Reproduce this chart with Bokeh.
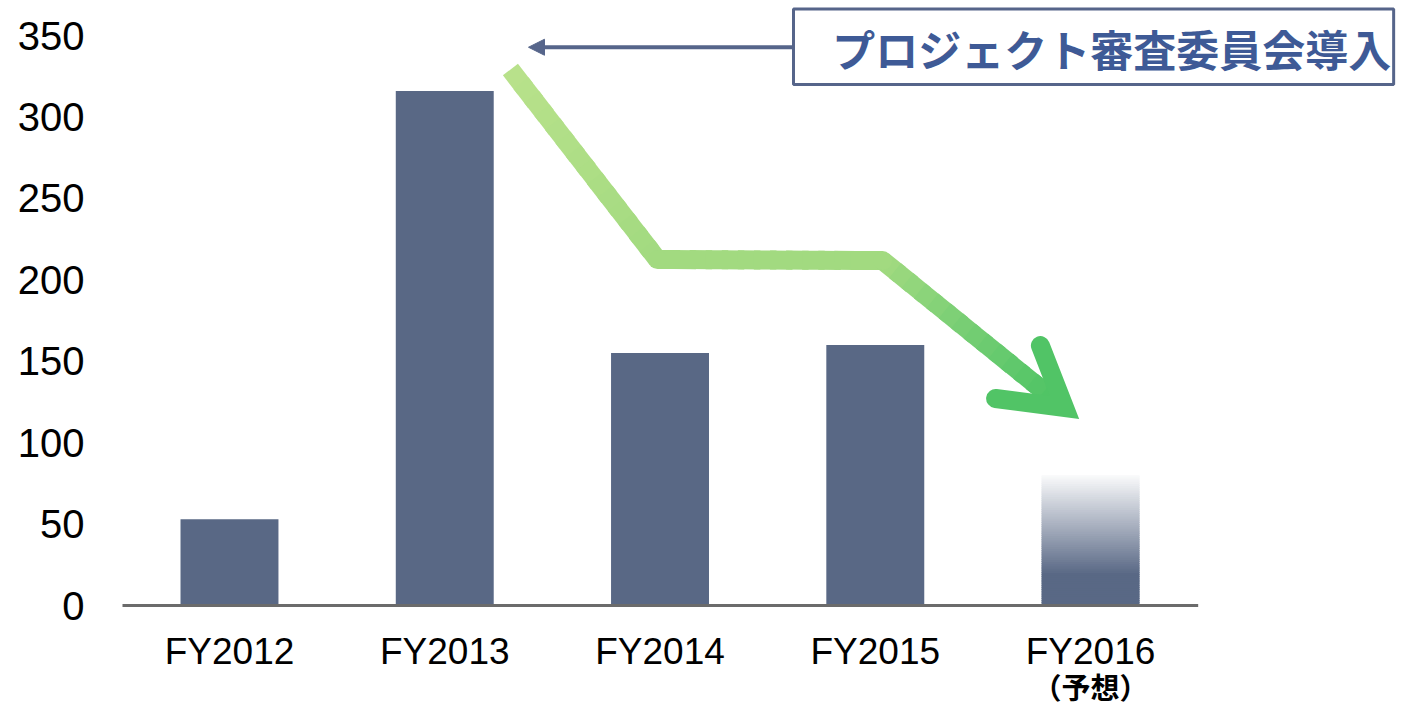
import numpy as np
from bokeh.plotting import figure
from bokeh.models import Range1d, FixedTicker, Arrow, NormalHead
from bokeh.core.properties import value
from bokeh.embed import file_html
from bokeh.resources import INLINE

# ---------------- data ----------------
categories = ["FY2012", "FY2013", "FY2014", "FY2015", "FY2016"]
counts = [53, 316, 155, 160, 80]
is_forecast = [False, False, False, False, True]
forecast_note = "（予想）"
y_ticks = [0, 50, 100, 150, 200, 250, 300, 350]
callout_text = "プロジェクト審査委員会導入"

# ---------------- style ----------------
BAR = "#596885"
AXIS = "#6b6b6b"
SLATE = "#56658a"
CALLOUT_TXT = "#3e5a96"
BAR_W = 0.455

p = figure(width=1408, height=707,
           x_range=Range1d(-0.497, 5.477), y_range=Range1d(-62.6, 371.5),
           x_axis_location=None,
           output_backend="svg", toolbar_location=None,
           min_border_left=122, min_border_right=0,
           min_border_top=0, min_border_bottom=0)
p.outline_line_color = None
p.grid.visible = False
p.background_fill_color = "white"

ya = p.yaxis[0]
ya.ticker = FixedTicker(ticks=y_ticks)
ya.axis_line_color = None
ya.major_tick_line_color = None
ya.minor_tick_line_color = None
ya.major_tick_out = 0
ya.major_tick_in = 0
ya.major_label_standoff = 38
ya.major_label_text_font = "Liberation Sans"
ya.major_label_text_font_size = "40px"
ya.major_label_text_color = "black"

idx = list(range(len(categories)))

# solid bars
sx = [i for i in idx if not is_forecast[i]]
sy = [counts[i] for i in idx if not is_forecast[i]]
p.vbar(x=sx, top=sy, bottom=0, width=BAR_W, fill_color=BAR, line_color=None)

# forecast bar with fade to white
base = np.array([0x59, 0x68, 0x85], dtype=float)
white = np.array([255, 255, 255], dtype=float)
for i in idx:
    if not is_forecast[i]:
        continue
    v = counts[i]
    n = 60
    step = v / n
    bots, tops, cols = [], [], []
    for k in range(n):
        b = k * step
        t = min(v, b + step * 1.6)
        frac = (k + 0.5) / n
        f = 0.0 if frac < 0.24 else (frac - 0.24) / 0.76
        f = min(1.0, f) * 0.97
        c = base * (1 - f) + white * f
        bots.append(b)
        tops.append(t)
        cols.append("#%02x%02x%02x" % tuple(int(round(x)) for x in c))
    p.vbar(x=[i] * n, bottom=bots, top=tops, width=BAR_W,
           fill_color=cols, line_color=None)

# baseline
p.segment(x0=[-0.5], y0=[0], x1=[len(categories) - 0.5], y1=[0],
          line_color=AXIS, line_width=3)

# category labels
p.text(x=idx, y=[0] * len(idx), text=categories, y_offset=46,
       text_align="center", text_baseline="middle",
       text_font=value("Liberation Sans"), text_font_size="37px",
       text_color="black")
fx = [i for i in idx if is_forecast[i]]
p.text(x=fx, y=[0] * len(fx), text=[forecast_note] * len(fx), y_offset=80,
       text_align="center", text_baseline="middle",
       text_font=value("Noto Sans CJK JP"), text_font_style="bold",
       text_font_size="29px", text_color="black")

# callout box and arrow
p.quad(left=[2.620], right=[5.408], top=[366.3], bottom=[319.9],
       fill_color="white", line_color=SLATE, line_width=3)
p.text(x=[4.098], y=[342.6], text=[callout_text],
       text_align="center", text_baseline="middle",
       text_font=value("Noto Sans CJK JP"), text_font_style="bold",
       text_font_size="43px", text_color=CALLOUT_TXT)
p.add_layout(Arrow(end=NormalHead(size=16, fill_color=SLATE, line_color=SLATE),
                   x_start=2.62, y_start=342.8, x_end=1.389, y_end=342.8,
                   line_color=SLATE, line_width=4))

# green trend arrow (decoration)
P0 = (1.305, 329.1)
P1 = (1.988, 212.5)
P2 = (3.034, 211.8)
PE = (3.842, 125.3)
TIP = (3.879, 121.6)
ARM_A = (3.559, 127.1)
ARM_B = (3.767, 159.6)

stops_y = [113.6, 168.9, 210.6, 334.6]
stops_c = np.array([[66, 192, 96], [118, 206, 116], [162, 218, 128], [186, 226, 140]], dtype=float)


def green(yv):
    c = np.array([np.interp(yv, stops_y, stops_c[:, j]) for j in range(3)])
    return "#%02x%02x%02x" % tuple(int(round(x)) for x in c)


xs, ys, cs = [], [], []
for (a, b) in [(P0, P1), (P1, P2), (P2, PE)]:
    k = 14
    for j in range(k):
        t0 = j / k
        t1 = min(1.0, (j + 1.4) / k)
        x0 = a[0] + (b[0] - a[0]) * t0
        y0 = a[1] + (b[1] - a[1]) * t0
        x1 = a[0] + (b[0] - a[0]) * t1
        y1 = a[1] + (b[1] - a[1]) * t1
        xs.append([x0, x1])
        ys.append([y0, y1])
        cs.append(green((y0 + y1) / 2))
p.multi_line(xs=xs, ys=ys, line_color=cs, line_width=19, line_cap="butt")
p.scatter(x=[P1[0], P2[0]], y=[P1[1], P2[1]], size=19,
          fill_color=[green(P1[1]), green(P2[1])], line_color=None)
p.line(x=[ARM_A[0], TIP[0], ARM_B[0]], y=[ARM_A[1], TIP[1], ARM_B[1]],
       line_width=19, line_join="miter", line_cap="round",
       line_color=green(130))

open("out.html", "w").write(file_html(p, INLINE))
